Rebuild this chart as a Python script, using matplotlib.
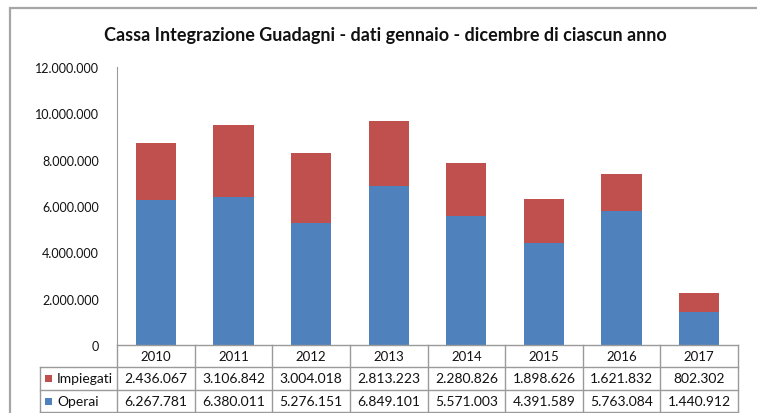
import matplotlib; matplotlib.use("Agg")
import matplotlib.pyplot as plt
import matplotlib.transforms as mtrans
from matplotlib.lines import Line2D
from matplotlib.patches import Rectangle
import numpy as np

plt.rcParams.update({"font.family": ["Lato", "DejaVu Sans"], "font.size": 9})

years = ["2010", "2011", "2012", "2013", "2014", "2015", "2016", "2017"]
operai = [6267781, 6380011, 5276151, 6849101, 5571003, 4391589, 5763084, 1440912]
impiegati = [2436067, 3106842, 3004018, 2813223, 2280826, 1898626, 1621832, 802302]
yticks = [0, 2000000, 4000000, 6000000, 8000000, 10000000, 12000000]

BLUE = "#4F81BD"; RED = "#C0504D"; GRID = "#9A9A9A"; INK = "#111111"
W, H = 757, 414

def fmt(v):
    return "{:,}".format(v).replace(",", ".")

fig = plt.figure(figsize=(W/100, H/100), dpi=100)
fig.patches.append(Rectangle((10/W, -0.1), 2, 1 - 9/H + 0.1, transform=fig.transFigure,
                             fill=False, ec="#A6A6A6", lw=1.6))
ax = fig.add_axes([117/W, 1-346/H, (738-117)/W, (346-68)/H])
x = np.arange(len(years))
ax.bar(x, operai, width=0.52, color=BLUE, zorder=2)
ax.bar(x, impiegati, width=0.52, bottom=operai, color=RED, zorder=2)
ax.set_xlim(-0.5, len(years) - 0.5)
ax.set_ylim(0, 12000000)
ax.set_yticks(yticks)
ax.set_yticklabels([fmt(v) for v in yticks], fontsize=9, color=INK)
ax.tick_params(axis="y", length=0, pad=13)
ax.set_xticks([])
for sp in ("top", "right", "bottom"): ax.spines[sp].set_visible(False)
ax.spines["left"].set_color(GRID)
fig.text(385/W, 1-36/H, "Cassa Integrazione Guadagni - dati gennaio - dicembre di ciascun anno",
         ha="center", va="center", fontsize=13, fontweight="bold", color=INK)

# data table below the plot
tr = mtrans.blended_transform_factory(ax.transData, fig.transFigure)
def fy(p): return 1 - p/H
rows = [346, 368, 391, 413]
xl = -0.5 - (117-40)/(738-117)*len(years)
kw = dict(transform=tr, color=GRID, lw=1.0, clip_on=False)
ax.add_line(Line2D([-0.5, 7.5], [fy(346)]*2, **kw))
for r in rows[1:]:
    ax.add_line(Line2D([xl, 7.5], [fy(r)]*2, **kw))
ax.add_line(Line2D([xl, xl], [fy(368), fy(413)], **kw))
for b in np.arange(-0.5, 8.0, 1.0):
    ax.add_line(Line2D([b, b], [fy(346), fy(413)], **kw))
for i, yr in enumerate(years):
    ax.text(i, fy(357), yr, transform=tr, ha="center", va="center", fontsize=9.5, color=INK)
    ax.text(i, fy(379.5), fmt(impiegati[i]), transform=tr, ha="center", va="center", fontsize=10, color=INK)
    ax.text(i, fy(402), fmt(operai[i]), transform=tr, ha="center", va="center", fontsize=10, color=INK)
for yy, col, lab in [(379.5, RED, "Impiegati"), (402, BLUE, "Operai")]:
    fig.patches.append(Rectangle((45/W, fy(yy+3.5)), 7/W, 7/H, transform=fig.transFigure, fc=col, ec="none"))
    fig.text(57/W, fy(yy), lab, ha="left", va="center", fontsize=10, color=INK)

fig.savefig("out.png", dpi=100)
